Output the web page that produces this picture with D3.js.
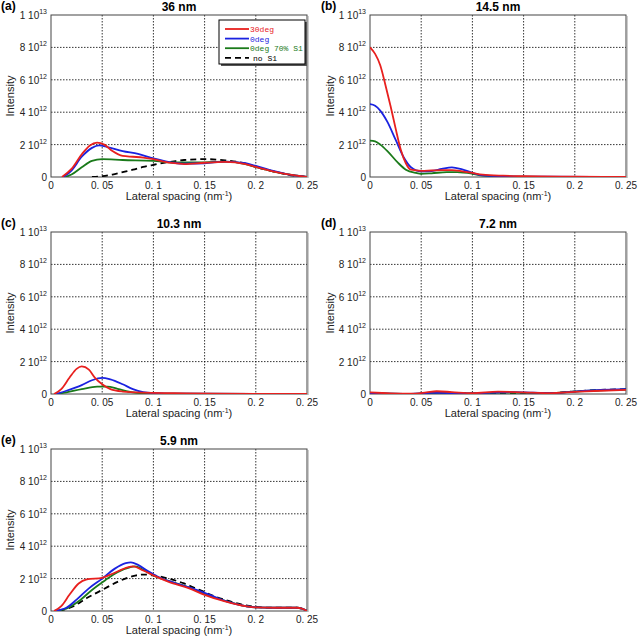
<!DOCTYPE html>
<html><head><meta charset="utf-8">
<script src="https://cdn.jsdelivr.net/npm/d3@7"></script>
<style>body{margin:0;background:#fff}svg{display:block}</style>
</head><body>
<script>
// values in units of 1e12
const xTicks = [0, 0.05, 0.1, 0.15, 0.2, 0.25];
const xTickLabels = ["0", "0. 05", "0. 1", "0. 15", "0. 2", "0. 25"];
const yTicks = [0, 2, 4, 6, 8, 10];
const yTickMant = ["0", "2", "4", "6", "8", "1"];
const yTickExp = ["", "12", "12", "12", "12", "13"];
const seriesNames = ["30deg", "0deg", "0deg 70% S1", "no S1"];
const seriesColors = ["#e8201e", "#1a22e0", "#1a7a1a", "#000000"];
const panelLabels = ["(a)", "(b)", "(c)", "(d)", "(e)"];
const panelTitles = ["36 nm", "14.5 nm", "10.3 nm", "7.2 nm", "5.9 nm"];

const aRed = [[0.0107,0],[0.02,0.5],[0.03,1.4],[0.038,1.95],[0.045,2.12],[0.052,2.0],[0.06,1.6],[0.07,1.3],[0.08,1.25],[0.09,1.2],[0.1,1.1],[0.11,0.95],[0.12,0.85],[0.13,0.8],[0.15,0.88],[0.17,0.93],[0.19,0.8],[0.2,0.62],[0.21,0.45],[0.22,0.3],[0.23,0.18],[0.24,0.08],[0.25,0]];
const aBlue = [[0.012,0],[0.02,0.4],[0.03,1.25],[0.04,1.8],[0.047,1.95],[0.055,1.85],[0.07,1.6],[0.085,1.42],[0.1,1.15],[0.11,1.0],[0.12,0.88],[0.13,0.82],[0.15,0.85],[0.17,0.95],[0.19,0.85],[0.2,0.68],[0.21,0.5],[0.22,0.33],[0.23,0.18],[0.24,0.08],[0.25,0]];
const aGreen = [[0.014,0],[0.02,0.15],[0.03,0.6],[0.04,1.0],[0.05,1.1],[0.07,1.05],[0.1,1.0],[0.12,0.9],[0.15,0.9],[0.17,0.95],[0.19,0.8],[0.2,0.62],[0.21,0.45],[0.22,0.3],[0.23,0.18],[0.24,0.08],[0.25,0]];
const aBlack = [[0.04,0],[0.05,0.05],[0.06,0.15],[0.07,0.3],[0.08,0.45],[0.09,0.62],[0.1,0.75],[0.11,0.87],[0.12,0.97],[0.13,1.05],[0.15,1.1],[0.17,1.03],[0.19,0.83],[0.2,0.62],[0.21,0.45],[0.22,0.3],[0.23,0.16],[0.24,0.07],[0.25,0]];

const bRed = [[0,8.0],[0.005,7.6],[0.01,6.9],[0.015,5.7],[0.02,4.4],[0.025,3.0],[0.03,1.7],[0.035,0.85],[0.04,0.45],[0.05,0.38],[0.06,0.4],[0.07,0.42],[0.08,0.42],[0.09,0.35],[0.1,0.25],[0.11,0.15],[0.13,0.08],[0.15,0.05],[0.2,0.02],[0.25,0]];
const bBlue = [[0,4.5],[0.005,4.4],[0.01,4.1],[0.017,3.4],[0.025,2.3],[0.033,1.2],[0.04,0.6],[0.05,0.35],[0.06,0.37],[0.07,0.5],[0.08,0.6],[0.09,0.47],[0.1,0.26],[0.11,0.1],[0.13,0.05],[0.17,0.02],[0.25,0]];
const bGreen = [[0,2.25],[0.005,2.2],[0.01,2.0],[0.017,1.6],[0.027,0.9],[0.035,0.45],[0.045,0.25],[0.05,0.2],[0.06,0.23],[0.075,0.3],[0.085,0.3],[0.1,0.2],[0.11,0.08],[0.13,0.03],[0.17,0.01],[0.25,0]];

const cRed = [[0.003,0],[0.01,0.3],[0.018,1.0],[0.025,1.55],[0.03,1.7],[0.037,1.5],[0.043,1.0],[0.05,0.6],[0.058,0.3],[0.07,0.15],[0.09,0.08],[0.12,0.05],[0.16,0.02],[0.25,0]];
const cBlue = [[0.005,0],[0.015,0.2],[0.03,0.55],[0.04,0.85],[0.05,1.0],[0.058,0.9],[0.07,0.6],[0.08,0.3],[0.09,0.12],[0.1,0.06],[0.13,0.02],[0.25,0]];
const cGreen = [[0.005,0],[0.015,0.1],[0.03,0.3],[0.045,0.45],[0.055,0.45],[0.065,0.32],[0.08,0.1],[0.1,0.02],[0.25,0]];

const dRed = [[0,0.1],[0.02,0.04],[0.04,0.02],[0.055,0.1],[0.065,0.17],[0.08,0.12],[0.1,0.05],[0.125,0.15],[0.15,0.1],[0.175,0.05],[0.2,0.13],[0.225,0.2],[0.25,0.25]];
const dBlue = [[0,0.05],[0.02,0.02],[0.04,0.01],[0.06,0.07],[0.08,0.06],[0.1,0.04],[0.12,0.08],[0.14,0.12],[0.16,0.08],[0.18,0.06],[0.2,0.15],[0.225,0.25],[0.25,0.3]];
const dGreen = [[0,0.05],[0.02,0.02],[0.04,0.01],[0.06,0.06],[0.08,0.07],[0.1,0.04],[0.12,0.07],[0.14,0.08],[0.16,0.05],[0.18,0.06],[0.2,0.15],[0.225,0.22],[0.25,0.27]];
const dBlack = [[0,0.03],[0.02,0.01],[0.04,0.01],[0.06,0.04],[0.08,0.05],[0.1,0.03],[0.12,0.05],[0.14,0.07],[0.16,0.05],[0.18,0.07],[0.2,0.16],[0.225,0.25],[0.25,0.3]];

const eRed = [[0.003,0],[0.01,0.3],[0.018,1.0],[0.027,1.7],[0.035,1.95],[0.05,2.05],[0.06,2.3],[0.075,2.7],[0.08,2.75],[0.09,2.5],[0.1,2.2],[0.115,1.8],[0.135,1.4],[0.15,1.0],[0.17,0.6],[0.19,0.3],[0.2,0.22],[0.22,0.2],[0.24,0.2],[0.245,0.15],[0.25,0]];
const eBlue = [[0.003,0],[0.015,0.2],[0.025,0.7],[0.037,1.4],[0.05,2.0],[0.062,2.6],[0.073,2.95],[0.078,3.0],[0.085,2.85],[0.095,2.45],[0.105,2.1],[0.12,1.75],[0.14,1.35],[0.155,1.0],[0.17,0.62],[0.19,0.3],[0.2,0.22],[0.22,0.2],[0.24,0.2],[0.245,0.15],[0.25,0]];
const eGreen = [[0.003,0],[0.015,0.15],[0.027,0.6],[0.04,1.3],[0.053,1.9],[0.065,2.4],[0.077,2.7],[0.082,2.75],[0.09,2.55],[0.1,2.2],[0.115,1.85],[0.135,1.45],[0.15,1.05],[0.17,0.62],[0.19,0.3],[0.2,0.22],[0.22,0.2],[0.24,0.2],[0.245,0.15],[0.25,0]];
const eBlack = [[0.008,0],[0.022,0.3],[0.035,0.8],[0.05,1.3],[0.065,1.8],[0.08,2.15],[0.09,2.25],[0.1,2.2],[0.115,2.0],[0.13,1.7],[0.145,1.3],[0.16,0.9],[0.18,0.5],[0.2,0.25],[0.22,0.2],[0.24,0.2],[0.245,0.15],[0.25,0]];

const panelSeries = [
  [aRed, aBlue, aGreen, aBlack],
  [bRed, bBlue, bGreen, null],
  [cRed, cBlue, cGreen, null],
  [dRed, dBlue, dGreen, dBlack],
  [eRed, eBlue, eGreen, eBlack]
];

const W = 640, H = 637;
const pw = 256, ph = 162;
const origins = [[51,15],[370,15],[51,232],[370,232],[51,449]];

const svg = d3.select("body").append("svg").attr("width", W).attr("height", H)
  .style("font-family", "'Liberation Sans', Arial, sans-serif");

const x = d3.scaleLinear().domain([0, 0.25]).range([0, pw]);
const y = d3.scaleLinear().domain([0, 10]).range([ph, 0]);
const line = d3.line().x(d => x(d[0])).y(d => y(d[1])).curve(d3.curveMonotoneX);

panelSeries.forEach((series, i) => {
  const [ox, oy] = origins[i];
  const col = i % 2;
  const g = svg.append("g").attr("transform", `translate(${ox},${oy})`);
  // grid
  g.append("g").selectAll("line").data(xTicks.slice(1, -1)).join("line")
    .attr("x1", d => x(d)).attr("x2", d => x(d)).attr("y1", 0).attr("y2", ph)
    .attr("stroke", "#000").attr("stroke-width", 0.8).attr("stroke-dasharray", "1.5,1.5");
  g.append("g").selectAll("line").data(yTicks.slice(1, -1)).join("line")
    .attr("y1", d => y(d)).attr("y2", d => y(d)).attr("x1", 0).attr("x2", pw)
    .attr("stroke", "#000").attr("stroke-width", 0.8).attr("stroke-dasharray", "1.5,1.5");
  // frame
  g.append("rect").attr("x", 0).attr("y", 0).attr("width", pw).attr("height", ph)
    .attr("fill", "none").attr("stroke", "#444").attr("stroke-width", 1);
  g.append("line").attr("x1", pw + 1).attr("x2", pw + 1).attr("y1", 1).attr("y2", ph + 1)
    .attr("stroke", "#999").attr("stroke-width", 1);
  // x tick labels
  g.append("g").selectAll("text").data(xTicks).join("text")
    .attr("x", d => x(d)).attr("y", ph + 12).attr("text-anchor", "middle")
    .attr("font-size", 10).attr("fill", "#222")
    .text((d, k) => xTickLabels[k]);
  // y tick labels
  yTicks.forEach((t, k) => {
    const tx = g.append("text").attr("x", -4).attr("y", y(t) + 4)
      .attr("text-anchor", "end").attr("font-size", 10).attr("fill", "#222");
    if (yTickExp[k]) {
      tx.append("tspan").text(yTickMant[k] + " 10");
      tx.append("tspan").attr("dy", -5).attr("font-size", 7).text(yTickExp[k]);
    } else {
      tx.text(yTickMant[k]);
    }
  });
  // curves
  g.append("clipPath").attr("id", "clip" + i).append("rect")
    .attr("x", 0).attr("y", -2).attr("width", pw).attr("height", ph + 2);
  const cg = g.append("g").attr("clip-path", `url(#clip${i})`);
  [3, 2, 1, 0].forEach(s => {
    if (!series[s]) return;
    cg.append("path").datum(series[s]).attr("d", line)
      .attr("fill", "none").attr("stroke", seriesColors[s])
      .attr("stroke-width", 1.8)
      .attr("stroke-dasharray", s === 3 ? "6,4" : null);
  });
  // titles
  g.append("text").attr("x", pw / 2).attr("y", -4).attr("text-anchor", "middle")
    .attr("font-size", 12).attr("font-weight", "bold").text(panelTitles[i]);
  g.append("text").attr("x", col * 320 + 1 - ox).attr("y", -5)
    .attr("font-size", 12).attr("font-weight", "bold").text(panelLabels[i]);
  // axis labels
  const xl = g.append("text").attr("x", pw / 2).attr("y", ph + 23).attr("text-anchor", "middle")
    .attr("font-size", 11).attr("fill", "#222");
  xl.append("tspan").text("Lateral spacing (nm");
  xl.append("tspan").attr("dy", -4).attr("font-size", 7).text("-1");
  xl.append("tspan").attr("dy", 4).text(")");
  g.append("text").attr("transform", `translate(${-ox + col * 320 + 14},${ph / 2}) rotate(-90)`)
    .attr("text-anchor", "middle").attr("font-size", 11).attr("fill", "#222").text("Intensity");

  if (i === 0) {
    const lg = g.append("g").attr("transform", `translate(${168},${5})`);
    lg.append("rect").attr("x", 2).attr("y", 2).attr("width", 86).attr("height", 44).attr("fill", "#555");
    lg.append("rect").attr("x", 0).attr("y", 0).attr("width", 86).attr("height", 44)
      .attr("fill", "#fff").attr("stroke", "#000").attr("stroke-width", 1);
    seriesNames.forEach((n, s) => {
      const yy = 9 + s * 9.6;
      lg.append("line").attr("x1", 6).attr("x2", 30).attr("y1", yy).attr("y2", yy)
        .attr("stroke", seriesColors[s]).attr("stroke-width", 1.8)
        .attr("stroke-dasharray", s === 3 ? "6,4" : null);
      lg.append("text").attr("x", s === 3 ? 34 : 31).attr("y", yy + 3)
        .attr("font-size", 8).attr("font-family", "'Liberation Mono', monospace")
        .attr("fill", seriesColors[s]).text(n);
    });
  }
});
</script>
</body></html>
